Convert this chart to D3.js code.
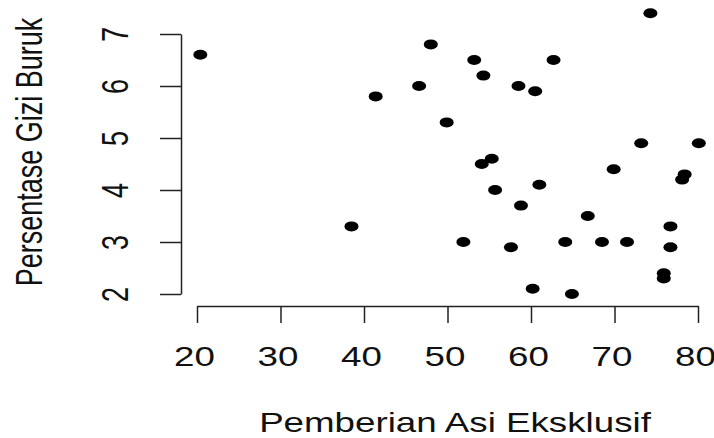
<!DOCTYPE html>
<html>
<head>
<meta charset="utf-8">
<script src="https://cdn.jsdelivr.net/npm/d3@7"></script>
<style>
  body { margin: 0; background: #fff; }
  svg { display: block; }
  text { font-family: "Liberation Sans", Arial, sans-serif; fill: #111; }
</style>
</head>
<body>
<div id="chart"></div>
<script>
// data
var asiEksklusif = [20.4, 38.5, 74.3, 48.0, 53.2, 62.7, 54.3, 46.6, 58.5, 60.5,
                    41.4, 49.9, 73.2, 80.1, 55.3, 54.1, 69.9, 78.4, 78.1, 61.0,
                    55.7, 58.8, 66.8, 76.7, 51.9, 64.1, 68.5, 71.5, 57.6, 76.7,
                    75.9, 75.9, 60.2, 64.9];
var giziBuruk    = [6.6, 3.3, 7.4, 6.8, 6.5, 6.5, 6.2, 6.0, 6.0, 5.9,
                    5.8, 5.3, 4.9, 4.9, 4.6, 4.5, 4.4, 4.3, 4.2, 4.1,
                    4.0, 3.7, 3.5, 3.3, 3.0, 3.0, 3.0, 3.0, 2.9, 2.9,
                    2.4, 2.3, 2.1, 2.0];
var xTicks = [20, 30, 40, 50, 60, 70, 80];
var yTicks = [2, 3, 4, 5, 6, 7];
var xTitle = "Pemberian Asi Eksklusif";
var yTitle = "Persentase Gizi Buruk";

var width = 714, height = 438,
    sx = 1.36,          // the picture is stretched sideways
    fontSize = 27;

var svg = d3.select("#chart").append("svg")
    .attr("width", width)
    .attr("height", height);

var x = d3.scaleLinear().domain([20, 80]).range([197, 698]);
var y = d3.scaleLinear().domain([2, 7]).range([294, 34]);

// x axis
var gx = svg.append("g")
    .attr("transform", "translate(0,306)")
    .call(d3.axisBottom(x).tickValues(xTicks).tickSize(17).tickSizeOuter(0).tickFormat(d3.format("d")));

gx.selectAll("text")
    .attr("y", 0).attr("dy", null)
    .attr("text-anchor", "middle")
    .attr("transform", "translate(-3,60) scale(" + sx + ",1)")
    .style("font-size", fontSize + "px");

// y axis
var gy = svg.append("g")
    .attr("transform", "translate(181,0)")
    .call(d3.axisLeft(y).tickValues(yTicks).tickSize(21).tickSizeOuter(0).tickFormat(d3.format("d")));

gy.selectAll("text")
    .attr("x", 0).attr("y", 0).attr("dy", null)
    .attr("text-anchor", "middle")
    .attr("transform", "translate(-53,0) scale(" + sx + ",1) rotate(-90)")
    .style("font-size", fontSize + "px");

svg.selectAll(".domain, .tick line")
    .attr("stroke", "#222")
    .attr("stroke-width", 1.5);

// titles
svg.append("text")
    .attr("text-anchor", "middle")
    .attr("transform", "translate(455,432) scale(" + sx + ",1)")
    .style("font-size", fontSize + "px")
    .text(xTitle);

svg.append("text")
    .attr("text-anchor", "middle")
    .attr("transform", "translate(42,152) scale(" + sx + ",1) rotate(-90)")
    .style("font-size", fontSize + "px")
    .text(yTitle);

// points
svg.append("g").selectAll("ellipse")
    .data(asiEksklusif)
  .enter().append("ellipse")
    .attr("cx", function(d) { return x(d); })
    .attr("cy", function(d, i) { return y(giziBuruk[i]); })
    .attr("rx", 7)
    .attr("ry", 5)
    .style("fill", "#000");
</script>
</body>
</html>
